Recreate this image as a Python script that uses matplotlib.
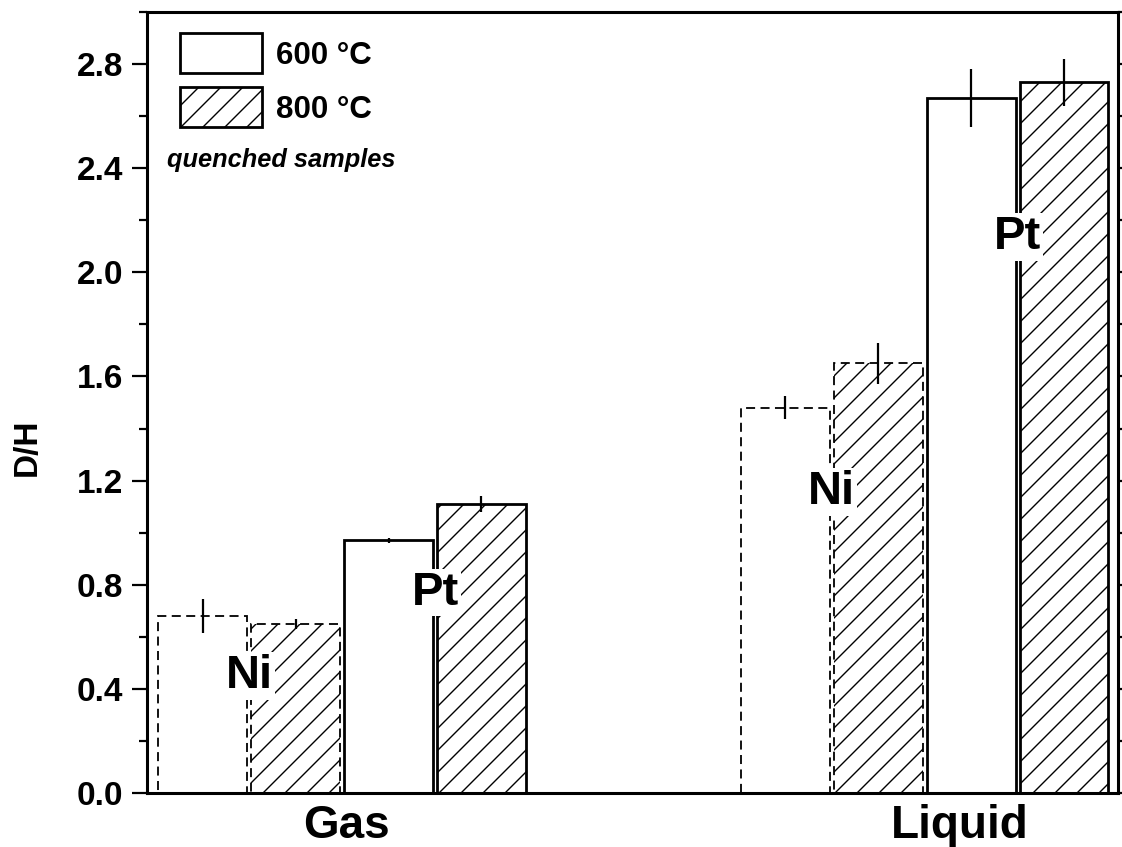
import matplotlib.pyplot as plt
import numpy as np
from matplotlib.patches import Rectangle
from matplotlib.ticker import MultipleLocator

# hatch spacing is fixed in points, so the figure is drawn at a lower dpi
# and every size is scaled back up by K
DPI = 66
K = 100 / DPI

plt.rcParams['font.family'] = ['Liberation Sans', 'DejaVu Sans']
plt.rcParams['font.weight'] = 'bold'
plt.rcParams['hatch.linewidth'] = 1.0 * K

# D/H ratios and errors, [Gas, Liquid]
groups = ['Gas', 'Liquid']
ni_600 = [0.68, 1.48]
ni_600_err = [0.065, 0.045]
ni_800 = [0.65, 1.65]
ni_800_err = [0.02, 0.08]
pt_600 = [0.97, 2.67]
pt_600_err = [0.01, 0.11]
pt_800 = [1.11, 2.73]
pt_800_err = [0.03, 0.09]
temps = ['600 °C', '800 °C']

group_x = np.array([0.0, 6.27])
width = 0.955

fig = plt.figure(figsize=(1122 / DPI, 847 / DPI), dpi=DPI)
ax = fig.add_axes([0.131, 0.0638, 0.8654, 0.922])

dash = (0, (5, 3))
# Ni bars: dashed outline
ax.bar(group_x + 0, ni_600, width, facecolor='white', edgecolor='black',
       linestyle=dash, linewidth=1.3 * K, zorder=2)
ax.bar(group_x + 1, ni_800, width, facecolor='white', edgecolor='black',
       linestyle=dash, linewidth=1.3 * K, hatch='/', zorder=2)
# Pt bars: solid outline
ax.bar(group_x + 2, pt_600, width, facecolor='white', edgecolor='black',
       linewidth=2.0 * K, zorder=2)
ax.bar(group_x + 3, pt_800, width, facecolor='white', edgecolor='black',
       linewidth=2.0 * K, hatch='/', zorder=2)

# error bars
for off, vals, errs in [(0, ni_600, ni_600_err), (1, ni_800, ni_800_err),
                        (2, pt_600, pt_600_err), (3, pt_800, pt_800_err)]:
    ax.errorbar(group_x + off, vals, yerr=errs, fmt='none', ecolor='black',
                elinewidth=1.6 * K, capsize=0, zorder=3)

# metal labels between the two temperature bars
label_box = dict(facecolor='white', edgecolor='none', pad=1.5 * K)
lab_fs = 34 * K
ax.text(group_x[0] + 0.5, 0.45, 'Ni', fontsize=lab_fs, ha='center', va='center', bbox=label_box, zorder=4)
ax.text(group_x[0] + 2.5, 0.77, 'Pt', fontsize=lab_fs, ha='center', va='center', bbox=label_box, zorder=4)
ax.text(group_x[1] + 0.5, 1.155, 'Ni', fontsize=lab_fs, ha='center', va='center', bbox=label_box, zorder=4)
ax.text(group_x[1] + 2.5, 2.135, 'Pt', fontsize=lab_fs, ha='center', va='center', bbox=label_box, zorder=4)

ax.set_xlim(-0.6, 9.85)
ax.set_ylim(0, 3.0)
ax.set_xticks([1.55, 8.15])
ax.set_xticklabels(groups, fontsize=33 * K)
ax.tick_params(axis='x', length=0, pad=8 * K)

ax.set_yticks(np.arange(0, 2.81, 0.4))
ax.yaxis.set_minor_locator(MultipleLocator(0.2))
ax.yaxis.set_major_formatter(plt.FormatStrFormatter('%.1f'))
ax.tick_params(axis='y', which='major', direction='out', length=11 * K, width=1.6 * K,
               labelsize=24 * K, right=True, pad=6 * K)
ax.tick_params(axis='y', which='minor', direction='out', length=6 * K, width=1.6 * K, right=True)
ax.set_ylabel('D/H', fontsize=24 * K, fontweight='bold')
ax.yaxis.set_label_coords(-0.107, 0.443)

for sp in ax.spines.values():
    sp.set_linewidth(2.2 * K)

# key boxes drawn by hand so they can be taller than the text
for i, (label, hatch) in enumerate(zip(temps, ['', '/'])):
    y0 = 0.922 - i * 0.069
    ax.add_patch(Rectangle((0.034, y0), 0.0844, 0.0512, transform=ax.transAxes,
                           facecolor='white', edgecolor='black', linewidth=2 * K,
                           hatch=hatch, zorder=5))
    ax.text(0.133, y0 + 0.022, label, transform=ax.transAxes, fontsize=22.5 * K,
            ha='left', va='center', zorder=5)
ax.text(0.021, 0.81, 'quenched samples', transform=ax.transAxes,
        fontsize=18.3 * K, style='italic', ha='left', va='center')

fig.savefig('out.png', dpi=DPI)
